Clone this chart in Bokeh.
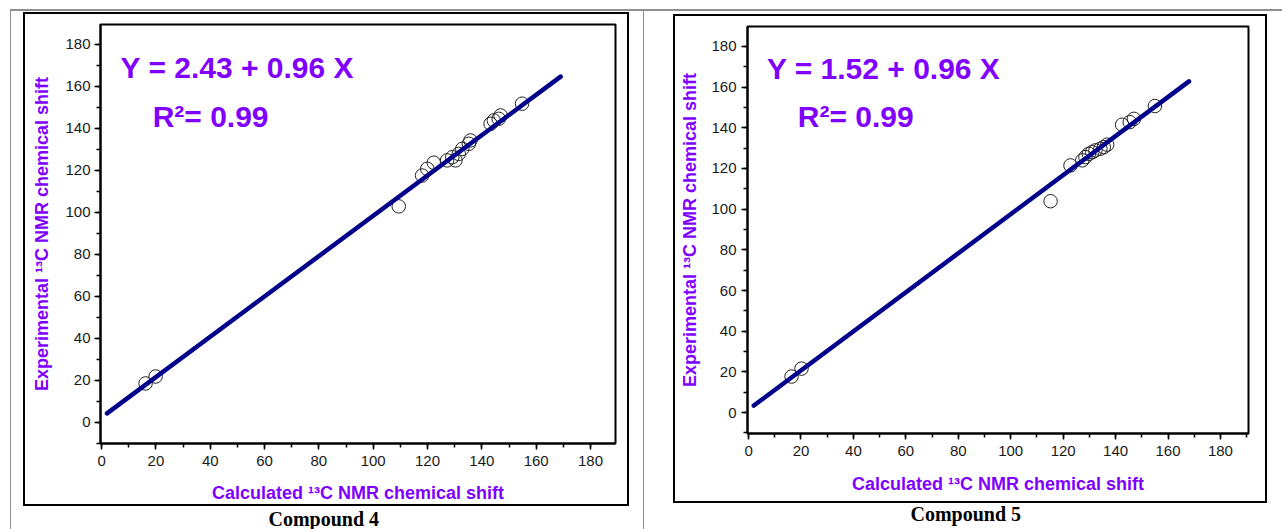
from bokeh.plotting import figure
from bokeh.layouts import row, column
from bokeh.models import Range1d, SingleIntervalTicker, Label, Title
from bokeh.embed import file_html
from bokeh.resources import INLINE

# Compound 4: calculated vs experimental 13C shifts (ppm)
calc4 = [16.2, 19.9, 109.4, 118.0, 119.9, 122.3, 127.2, 129.1, 130.3, 131.5,
         132.8, 135.2, 135.8, 143.2, 144.4, 146.2, 146.9, 154.8]
exp4 = [18.6, 21.9, 102.9, 117.6, 120.8, 123.7, 124.8, 126.3, 124.8, 127.9,
        130.3, 132.7, 134.3, 142.2, 143.8, 144.6, 146.2, 151.8]
intercept4, slope4, r2_4 = 2.43, 0.96, 0.99
fit_span4 = [2.0, 169.0]

# Compound 5
calc5 = [16.4, 20.2, 115.2, 122.8, 127.3, 128.5, 129.8, 131.1, 132.3, 134.2,
         135.5, 136.8, 142.5, 145.4, 147.0, 155.0]
exp5 = [17.7, 21.6, 103.9, 121.5, 124.0, 125.6, 127.2, 128.0, 128.9, 129.7,
        130.5, 131.7, 141.5, 142.8, 144.4, 150.7]
intercept5, slope5, r2_5 = 1.52, 0.96, 0.99
fit_span5 = [2.0, 168.0]

PURPLE = "#8000FF"
NAVY = "#00008B"
GRAY = "#8f8f8f"


def rule_styles(rects):
    """CSS background layers drawing solid rectangles (page rules, panel box)."""
    return {
        "background-color": "white",
        "background-image": ", ".join(f"linear-gradient({c}, {c})" for *_, c in rects),
        "background-size": ", ".join(f"{w}px {h}px" for _, _, w, h, _ in rects),
        "background-position": ", ".join(f"{x}px {y}px" for x, y, *_ in rects),
        "background-repeat": "no-repeat",
    }


def box_rects(l, t, r, b, w=2, c="black"):
    return [(l, t, r - l + w, w, c), (l, b, r - l + w, w, c),
            (l, t, w, b - t + w, c), (r, t, w, b - t + w, c)]


def make_panel(calc, exp, a, b, r2, span, caption, borders, xr, yr,
               standoffs, cap_offset, cap_standoff, rects):
    left, right, top, bottom = borders
    p = figure(width=641, height=529, output_backend="svg", toolbar_location=None,
               title=None, x_range=Range1d(*xr), y_range=Range1d(*yr),
               min_border_left=left, min_border_right=right,
               min_border_top=top, min_border_bottom=bottom)
    p.grid.visible = False
    p.outline_line_color = "black"
    p.outline_line_width = 2
    p.background_fill_color = "white"
    p.border_fill_color = None
    p.styles = rule_styles(rects)

    p.xaxis.axis_label = "Calculated \u00b9\u00b3C NMR chemical shift"
    p.yaxis.axis_label = "Experimental \u00b9\u00b3C NMR chemical shift"
    for ax in (p.xaxis[0], p.yaxis[0]):
        ax.ticker = SingleIntervalTicker(interval=20, num_minor_ticks=2)
        ax.axis_line_color = "black"
        ax.axis_line_width = 2
        ax.major_tick_line_color = "black"
        ax.major_tick_line_width = 1.5
        ax.major_tick_out = 6
        ax.major_tick_in = 0
        ax.minor_tick_line_color = "black"
        ax.minor_tick_line_width = 1.5
        ax.minor_tick_out = 4
        ax.minor_tick_in = 0
        ax.major_label_text_font = "Liberation Sans"
        ax.major_label_text_font_size = "15px"
        ax.major_label_text_color = "#1a1a1a"
        ax.axis_label_text_font = "Liberation Sans"
        ax.axis_label_text_font_style = "bold"
        ax.axis_label_text_font_size = "18px"
        ax.axis_label_text_color = PURPLE
    xs_lab, xs_ax, ys_lab, ys_ax = standoffs
    p.xaxis.major_label_standoff = xs_lab
    p.xaxis.axis_label_standoff = xs_ax
    p.yaxis.major_label_standoff = ys_lab
    p.yaxis.axis_label_standoff = ys_ax

    # measured points
    p.scatter(calc, exp, size=13.5, marker="circle", fill_alpha=0,
              line_color="#222222", line_width=1)
    # fitted line
    fit_y = [a + b * x for x in span]
    p.line(span, fit_y, line_color=NAVY, line_width=4.5, line_cap="round")

    p.add_layout(Label(x=7, y=169, text=f"Y = {a:.2f} + {b:.2f} X",
                       text_font="Liberation Sans", text_font_style="bold",
                       text_font_size="30px", text_color=PURPLE,
                       text_baseline="middle"))
    p.add_layout(Label(x=18.8, y=145.7, text=f"R\u00b2= {r2:.2f}",
                       text_font="Liberation Sans", text_font_style="bold",
                       text_font_size="30px", text_color=PURPLE,
                       text_baseline="middle"))

    # caption below the panel box
    p.add_layout(Title(text=caption, align="left", offset=cap_offset,
                       standoff=cap_standoff, text_font="Liberation Serif",
                       text_font_style="bold", text_font_size="20px",
                       text_color="black"), "below")
    return p


# rectangles on each half: (x, y, w, h, colour) in canvas pixels
rules4 = [(10, 9, 631, 2, GRAY), (10, 10, 1, 519, GRAY)] + box_rects(23, 12, 627, 504)
rules5 = [(0, 9, 641, 2, GRAY), (2, 10, 1, 519, GRAY)] + box_rects(32, 14, 624, 501)

p4 = make_panel(calc4, exp4, intercept4, slope4, r2_4, fit_span4, "Compound 4",
                (100, 26, 24, 86), (-0.4, 189.2), (-10, 189.5), (6, 14, 4, 10),
                168, 0, rules4)
p5 = make_panel(calc5, exp5, intercept5, slope5, r2_5, fit_span5, "Compound 5",
                (106, 34, 26, 96), (-0.4, 190.7), (-10.3, 189.8), (6, 15, 5, 8),
                163, 8, rules5)

layout = row(column(p4), column(p5))
open("out.html", "w").write(file_html(layout, INLINE))
